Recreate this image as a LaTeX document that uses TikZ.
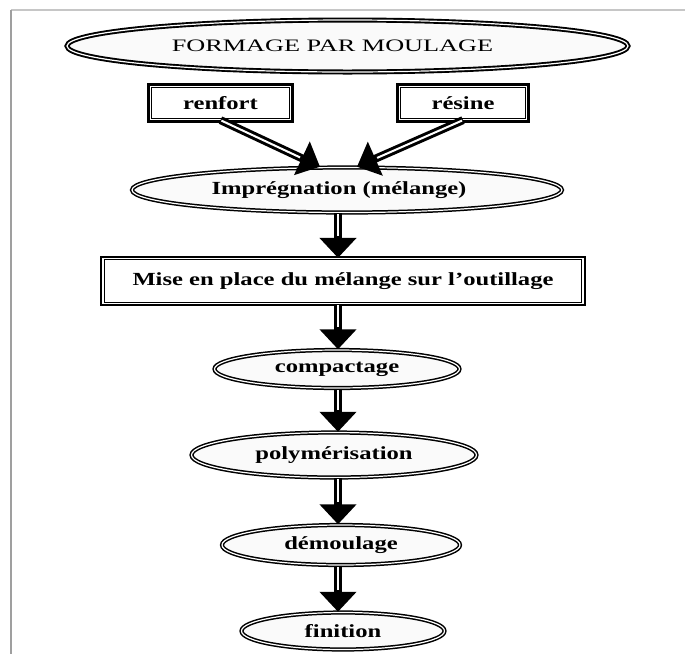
\documentclass[tikz,border=0pt]{standalone}
\usepackage{fontspec}
\setmainfont{Liberation Serif}[FakeStretch=1.33]
\newfontfamily\titlefont{Liberation Serif}[FakeStretch=1.5]
\usetikzlibrary{arrows.meta}
\usetikzlibrary{shapes.geometric}

\begin{document}
\begin{tikzpicture}[x=1pt, y=-1pt, % pixel grid, y down
    stage/.style={ellipse, draw, double=white, double distance=1.2pt,
      line width=1.5pt, fill=gray!4, inner sep=0pt,
      font=\fontsize{18.5}{20}\selectfont\bfseries},
    boxed/.style={rectangle, draw, double=white, double distance=1.3pt,
      line width=1.3pt, fill=white, inner sep=0pt,
      preaction={draw, line width=#1},
      font=\fontsize{18.5}{20}\selectfont\bfseries},
    boxed/.default=7pt,
    flow/.style={-{Triangle[length=20pt,width=36pt]}, line width=8pt,
      postaction={draw=white, line width=2pt, -, shorten >=22pt, shorten <=1pt}}]

      \useasboundingbox (0,0) rectangle (685,654);
      \draw [gray!45, line width=1.5pt] (11,10) -- (685,10);
      \draw [gray!75, line width=2pt] (11,10) -- (11,654);

      % column of stages
      \coordinate (axis) at (338,0);
      \node [stage, line width=1.9pt, minimum width=561pt, minimum height=52pt,
        font=\fontsize{17.5}{20}\selectfont\titlefont] (moulage) at (347.5,46)
        {FORMAGE PAR MOULAGE\hspace*{30pt}};
      \node [boxed, minimum width=140pt, minimum height=33pt] (renfort) at (220.5,103) {renfort};
      \node [boxed, minimum width=127pt, minimum height=33pt] (resine) at (463,103) {résine};
      \node [stage, minimum width=430pt, minimum height=45pt] (impreg) at (347,190)
        {Imprégnation (mélange)\hspace*{16pt}};
      \node [boxed=5.5pt, minimum width=480pt, minimum height=45pt] (miseplace) at (343,281)
        {Mise en place du mélange sur l’outillage};
      \node [stage, minimum width=245pt, minimum height=38pt] (compact) at (337,369) {compactage};
      \node [stage, minimum width=285pt, minimum height=45pt] (polym) at (334,455) {polymérisation};
      \node [stage, minimum width=238pt, minimum height=40pt] (demoul) at (341,545) {démoulage};
      \node [stage, minimum width=203pt, minimum height=37pt] (finition) at (343,631) {finition};

      % arrows
      \draw [flow] (renfort.south) -- ([xshift=-27pt]impreg.north);
      \draw [flow] (resine.south) -- ([xshift=10pt]impreg.north);
      \draw [flow] (impreg.south -| axis) -- (miseplace.north -| axis);
      \draw [flow] (miseplace.south -| axis) -- (compact.north -| axis);
      \draw [flow] (compact.south -| axis) -- (polym.north -| axis);
      \draw [flow] (polym.south -| axis) -- (demoul.north -| axis);
      \draw [flow] (demoul.south -| axis) -- (finition.north -| axis);

    \end{tikzpicture}
\end{document}
